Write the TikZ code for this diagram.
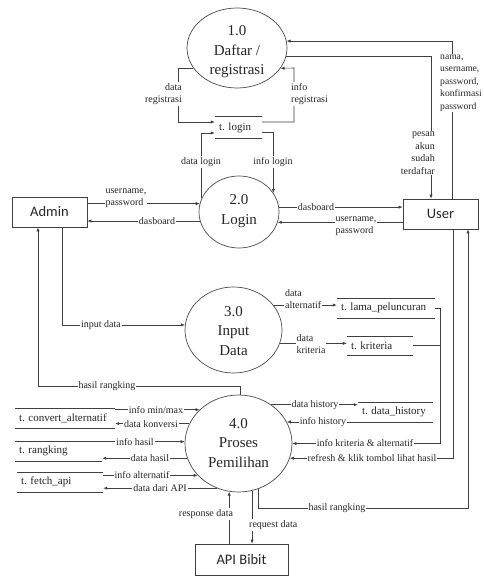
\documentclass[tikz,border=0pt]{standalone}
\usepackage{fontspec}
\setmainfont{Liberation Serif}
\newfontfamily\boxfont{Carlito}
\usetikzlibrary{shapes.geometric,arrows.meta}
\begin{document}
\begin{tikzpicture}[x=1pt,y=-1pt,
  ln/.style={draw=black!75, line width=0.6pt},
  flow/.style={ln, -{Latex[length=4pt,width=3.2pt]}},
  proc/.style={ellipse, draw=black!70, line width=0.7pt, inner sep=0pt},
  ptext/.style={font=\fontsize{15}{19.5}\selectfont, align=center, text=black!85, inner sep=0pt},
  ent/.style={rectangle, draw=black!75, line width=0.7pt, font=\boxfont\fontsize{14.5}{16}\selectfont, inner sep=0pt, text=black!85},
  dstore/.style={rectangle, inner sep=0pt, inner xsep=4pt, align=left, font=\fontsize{11}{13}\selectfont\frenchspacing, text=black!85},
  lbl/.style={fill=white, inner sep=1pt, font=\fontsize{10}{12.5}\selectfont, text=black!85},
]
\useasboundingbox (0,0) rectangle (483,577);
\fill[white] (0,0) rectangle (483,577);

% processes
\node[proc, minimum width=100pt, minimum height=80pt] (p1) at (237,48) {};
\node[ptext] (t1) at (237,52) {1.0\\Daftar /\\registrasi};
\node[proc, minimum width=80pt, minimum height=72pt] (p2) at (239,212) {};
\node[ptext] (t2) at (239,211) {2.0\\Login};
\node[proc, minimum width=97pt, minimum height=86pt] (p3) at (233.5,330) {};
\node[ptext] (t3) at (233.5,331) {3.0\\Input\\Data};
\node[proc, minimum width=107pt, minimum height=97pt] (p4) at (238.5,443.5) {};
\node[ptext] (t4) at (238.5,443) {4.0\\Proses\\Pemilihan};

% entities
\node[ent, minimum width=75pt, minimum height=30pt] (admin) at (49.5,212) {Admin};
\node[ent, minimum width=75pt, minimum height=30pt] (user) at (440.5,214) {User};
\node[ent, minimum width=93pt, minimum height=31pt] (api) at (241.5,559.5) {API Bibit};

% data stores
\node[dstore, text width=39pt, minimum height=21pt] (slogin) at (238.5,127.5) {t. login};
\node[dstore, text width=90pt, minimum height=20pt] (slama) at (386,308) {t. lama\_peluncuran};
\node[dstore, text width=58pt, minimum height=19pt] (skrit) at (380,345.5) {t. kriteria};
\node[dstore, text width=92pt, minimum height=20pt] (sconv) at (65,418) {t. convert\_alternatif};
\node[dstore, text width=79pt, minimum height=20pt] (srank) at (58.5,451) {t. rangking};
\node[dstore, text width=78pt, minimum height=20pt] (sfetch) at (60,482) {t. fetch\_api};
\node[dstore, text width=67pt, minimum height=20pt] (shist) at (395.5,412) {t. data\_history};
\foreach \s in {slogin,slama,skrit,sconv,srank,sfetch,shist}
  \draw[ln] (\s.north west) -- (\s.north east) (\s.south west) -- (\s.south east);

% process 1 <-> t. login
\draw[flow] (p1.205) -| (178,122) -- ([yshift=5.5pt]slogin.west);
\node[lbl, anchor=east, align=right] (l1) at (183,94) {data\\registrasi};
\draw[flow] ([yshift=5.5pt]slogin.east) -| (294,68) -- (p1.335);
\node[lbl, anchor=west, align=left] (l2) at (290,94) {info\\registrasi};

% login <-> t. login
\draw[flow] (p2.160) |- ([yshift=-5.5pt]slogin.west);
\node[lbl] (l3) at (201,162) {data login};
\draw[flow] ([yshift=-5pt]slogin.east) -| (p2.29);
\node[lbl] (l4) at (273,162) {info login};

% admin <-> login
\draw[flow] (admin.east |- p2.168) -- (p2.168);
\node[lbl, align=left] (l5) at (126,198) {username,\\password};
\draw[flow] (p2.193) -- (p2.193 -| admin.east);
\node[lbl] (l6) at (157,221) {dasboard};

% login <-> user
\draw[flow] (p2.7) -- (p2.7 -| user.west);
\node[lbl] (l7) at (316,207) {dasboard};
\draw[flow] (p2.345 -| user.west) -- (p2.345);
\node[lbl, align=left, anchor=north] (l8) at (356,215.5) {username,\\password};

% user <-> process 1
\draw[flow] (452,0 |- user.north) |- (p1.8);
\node[lbl, anchor=north west, align=left, font=\fontsize{9.6}{12.5}\selectfont] (l9) at (439,53.5) {nama,\\username,\\password,\\konfirmasi\\password};
\draw[flow] (p1.350) -| (431,0 |- user.north);
\node[lbl, anchor=east, align=right] (l10) at (436,153) {pesan\\akun\\sudah\\terdaftar};

% admin <-> input / hasil
\draw[flow] (62,0 |- admin.south) |- (p3.174);
\node[lbl] (l11) at (101,325) {input data};
\draw[flow] (p4.88) |- (38,386) -- (38,0 |- admin.south);
\node[lbl] (l12) at (107,386) {hasil rangking};

% input data -> stores
\draw[flow] (p3.32) -- (p3.32 -| slama.west);
\node[lbl, anchor=west, align=left] (l13) at (284,299) {data\\alternatif};
\draw[flow] (p3.344) -- (p3.344 -| skrit.west);
\node[lbl, align=left] (l14) at (311,344) {data\\kriteria};

% stores -> process 4
\draw[flow] (slama.east) -| (440,0 |- p4.0) -- (p4.0);
\draw[ln] (skrit.east) -- (skrit.east -| 440,0);
\node[lbl] (l15) at (365,443) {info kriteria \& alternatif};
\draw[flow] (453,0 |- user.south) |- (p4.344);
\node[lbl] (l16) at (372,458) {refresh \& klik tombol lihat hasil};
\draw[flow] (p4.293) |- (468,508) -- (468,0 |- user.south);
\node[lbl] (l17) at (337,508) {hasil rangking};

% history
\draw[flow] (p4.50) -- (p4.50 -| shist.west);
\node[lbl] (l18) at (315,405) {data history};
\draw[flow] (p4.24 -| shist.south east) -- (p4.24);
\node[lbl] (l19) at (323,422) {info history};

% left stores
\draw[flow] (sconv.north east |- p4.139) -- (p4.139);
\node[lbl] (l20) at (156,410) {info min/max};
\draw[flow] (p4.158) -- (p4.158 -| sconv.east);
\node[lbl] (l21) at (151,424) {data konversi};
\draw[flow] (srank.east |- p4.178) -- (p4.178);
\node[lbl] (l22) at (135,442) {info hasil};
\draw[flow] (p4.196) -- (p4.196 -| srank.east);
\node[lbl] (l23) at (150,458) {data hasil};
\draw[flow] (sfetch.east |- p4.218) -- (p4.218);
\node[lbl] (l24) at (142,475) {info alternatif};
\draw[flow] (p4.244) -- (p4.244 -| sfetch.east);
\node[lbl] (l25) at (160,488) {data dari API};

% API
\draw[flow] (p4.259 |- api.north) -- (p4.259);
\node[lbl] (l26) at (206,514) {response data};
\draw[flow] (p4.286) -- (p4.286 |- api.north);
\node[lbl, anchor=west] (l27) at (248,525) {request data};
\end{tikzpicture}
\end{document}
